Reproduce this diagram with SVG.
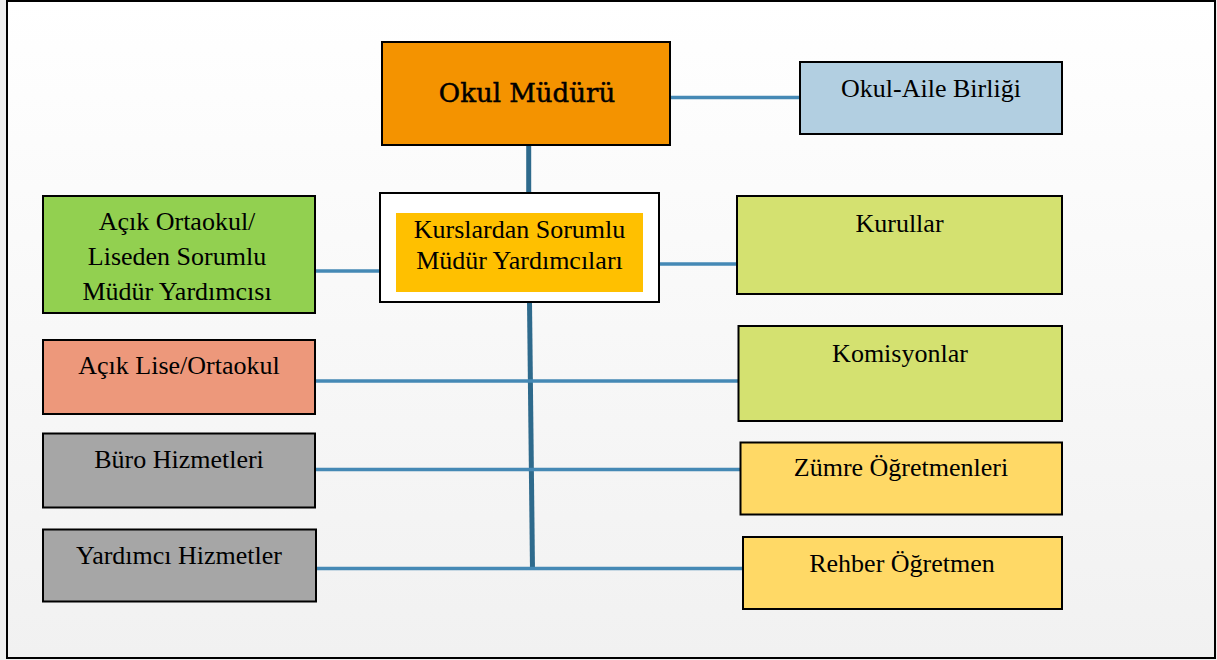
<svg xmlns="http://www.w3.org/2000/svg" width="1217" height="660" viewBox="0 0 1217 660">
<defs>
<linearGradient id="bg" x1="0" y1="0" x2="0" y2="1">
<stop offset="0" stop-color="#ffffff"/>
<stop offset="1" stop-color="#f1f1f1"/>
</linearGradient>
</defs>
<style>
.box{stroke:#000;stroke-width:2}
.t{font-family:"Liberation Serif","Times New Roman",serif;font-size:26px;fill:#000;text-anchor:middle}
.head{font-family:"DejaVu Serif",serif;font-size:26px;fill:#000;stroke:#000;stroke-width:0.5;text-anchor:middle}
.h{stroke:#4589b5;stroke-width:3.5;fill:none}
.v{stroke:#2e6a8c;stroke-width:5;fill:none}
</style>
<rect x="0" y="0" width="1217" height="660" fill="#efefef"/>
<rect x="7" y="1" width="1208" height="657" fill="url(#bg)" stroke="#000" stroke-width="2"/>
<g id="connectors">
<line class="h" x1="671" y1="97.5" x2="800" y2="97.5"/>
<line class="v" x1="528.7" y1="146" x2="528.7" y2="193"/>
<line class="h" x1="315" y1="271" x2="380" y2="271"/>
<line class="h" x1="659" y1="264" x2="737" y2="264"/>
<line class="v" x1="529.5" y1="302" x2="532.5" y2="570"/>
<line class="h" x1="315" y1="381" x2="738" y2="381"/>
<line class="h" x1="315" y1="469.5" x2="740" y2="469.5"/>
<line class="h" x1="317" y1="568.5" x2="743" y2="568.5"/>
</g>
<g id="okul-muduru">
<rect class="box" x="382" y="42" width="288" height="103" fill="#f49300"/>
<text class="head" x="527" y="102">Okul Müdürü</text>
</g>
<g id="kurslardan">
<rect class="box" x="380" y="193" width="279" height="109" fill="#ffffff"/>
<rect x="396" y="213" width="247" height="79" fill="#ffc000"/>
<text class="t" x="519.5" y="238">Kurslardan Sorumlu</text>
<text class="t" x="519.5" y="269">Müdür Yardımcıları</text>
</g>
<g id="okul-aile">
<rect class="box" x="800" y="62" width="262" height="72" fill="#b2cfe1"/>
<text class="t" x="931" y="97">Okul-Aile Birliği</text>
</g>
<g id="acik-ortaokul-mudur">
<rect class="box" x="43" y="196" width="272" height="117" fill="#92d050"/>
<text class="t" x="177" y="230">Açık Ortaokul/</text>
<text class="t" x="177" y="265">Liseden Sorumlu</text>
<text class="t" x="177" y="300">Müdür Yardımcısı</text>
</g>
<g id="kurullar">
<rect class="box" x="737" y="196" width="325" height="98" fill="#d4e170"/>
<text class="t" x="899.5" y="232">Kurullar</text>
</g>
<g id="acik-lise">
<rect class="box" x="43" y="340" width="272" height="74" fill="#ed987b"/>
<text class="t" x="179" y="374">Açık Lise/Ortaokul</text>
</g>
<g id="komisyonlar">
<rect class="box" x="738.5" y="326" width="323.5" height="95" fill="#d4e170"/>
<text class="t" x="900" y="362">Komisyonlar</text>
</g>
<g id="buro">
<rect class="box" x="43" y="433.5" width="272" height="74" fill="#a6a6a6"/>
<text class="t" x="179" y="468">Büro Hizmetleri</text>
</g>
<g id="zumre">
<rect class="box" x="740.5" y="442.5" width="321.5" height="72" fill="#ffd966"/>
<text class="t" x="901" y="476">Zümre Öğretmenleri</text>
</g>
<g id="yardimci">
<rect class="box" x="43" y="529.5" width="273" height="72" fill="#a6a6a6"/>
<text class="t" x="179" y="564">Yardımcı Hizmetler</text>
</g>
<g id="rehber">
<rect class="box" x="743" y="537" width="319" height="72" fill="#ffd966"/>
<text class="t" x="902" y="572">Rehber Öğretmen</text>
</g>
</svg>
